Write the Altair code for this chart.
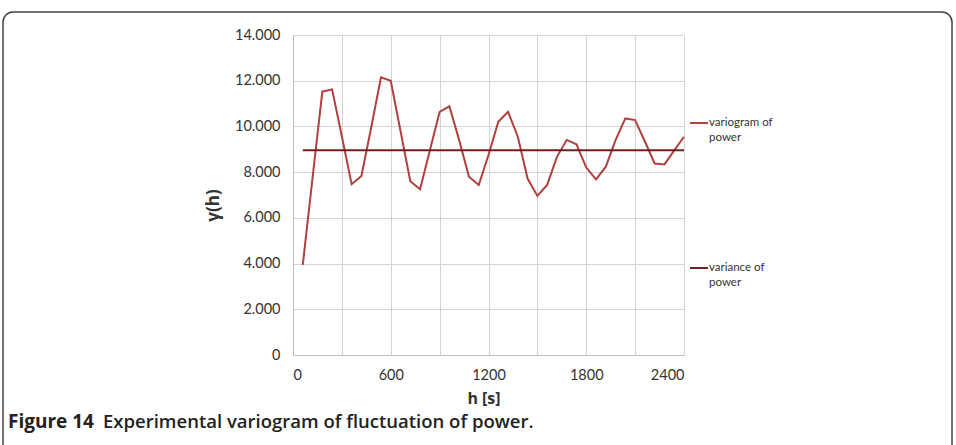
import altair as alt
import pandas as pd

# Experimental variogram of power fluctuation: lag h [s] vs gamma(h)
lag_s = [60, 120, 180, 240, 300, 360, 420, 480, 540, 600,
         660, 720, 780, 840, 900, 960, 1020, 1080, 1140, 1200,
         1260, 1320, 1380, 1440, 1500, 1560, 1620, 1680, 1740, 1800,
         1860, 1920, 1980, 2040, 2100, 2160, 2220, 2280, 2340, 2400]
gamma_h = [3.94, 7.75, 11.52, 11.62, 9.56, 7.47, 7.83, 9.95, 12.15, 12.00,
           9.80, 7.60, 7.25, 8.95, 10.64, 10.88, 9.40, 7.80, 7.44, 8.75,
           10.20, 10.64, 9.55, 7.72, 6.96, 7.44, 8.67, 9.41, 9.22, 8.20,
           7.68, 8.24, 9.40, 10.35, 10.28, 9.34, 8.38, 8.34, 8.95, 9.55]
variance_power = 8.96
variance_span = [60, 2400]

x_ticks = list(range(0, 2401, 300))
y_ticks = list(range(0, 15, 2))

legend_lines = ["variogram of", "power", "variance of", "power"]
caption_bold = "Figure 14"
caption_rest = "Experimental variogram of fluctuation of power."

VARIO_COLOR = "#B0413E"
VAR_COLOR = "#6E1F1F"
TEXT_COLOR = "#333333"
W, H = 391, 320

vario_df = pd.DataFrame({"h": lag_s, "gamma": gamma_h})
var_df = pd.DataFrame({"h": variance_span, "gamma": [variance_power] * len(variance_span)})
one = pd.DataFrame({"k": [0]})

x_enc = alt.X(
    "h:Q",
    scale=alt.Scale(domain=[0, 2400], nice=False),
    axis=alt.Axis(
        values=x_ticks, format="d",
        labelExpr="datum.value % 600 == 0 ? datum.label : ''",
        title="h [s]", titleX=W / 2 - 5, titleY=43, titleBaseline="middle",
        titleFont="Open Sans", titleFontSize=16, titleFontWeight="bold",
        titleColor=TEXT_COLOR, labelPadding=13,
    ),
)
y_enc = alt.Y(
    "gamma:Q",
    scale=alt.Scale(domain=[0, 14], nice=False),
    axis=alt.Axis(
        values=y_ticks,
        labelExpr="datum.value == 0 ? '0' : format(datum.value, '.3f')",
        title="γ(h)", titleX=-80, titleY=H / 2 + 10, titleAngle=-90,
        titleBaseline="middle", titleAlign="center",
        titleFont="Open Sans", titleFontSize=17, titleFontWeight="bold",
        titleColor=TEXT_COLOR, labelPadding=13,
    ),
)

vario = alt.Chart(vario_df).mark_line(color=VARIO_COLOR, strokeWidth=2).encode(x=x_enc, y=y_enc)
variance = alt.Chart(var_df).mark_line(color=VAR_COLOR, strokeWidth=2).encode(x="h:Q", y="gamma:Q")

# figure frame
frame = alt.Chart(one).mark_rect(
    fill=None, stroke="#444444", strokeWidth=1.5, cornerRadius=10, clip=False
).encode(x=alt.value(-290), x2=alt.value(659), y=alt.value(-23), y2=alt.value(440))

# legend entries
def legend_entry(color, y_px, lines):
    rule = alt.Chart(one).mark_rule(color=color, strokeWidth=2).encode(
        x=alt.value(397), x2=alt.value(415), y=alt.value(y_px))
    t1 = alt.Chart(one).mark_text(
        text=lines[0], align="left", baseline="middle", font="Lato",
        fontSize=11.5, color=TEXT_COLOR).encode(x=alt.value(416), y=alt.value(y_px))
    t2 = alt.Chart(one).mark_text(
        text=lines[1], align="left", baseline="middle", font="Lato",
        fontSize=11.5, color=TEXT_COLOR).encode(x=alt.value(416), y=alt.value(y_px + 15))
    return rule + t1 + t2

leg1 = legend_entry(VARIO_COLOR, 88, legend_lines[0:2])
leg2 = legend_entry(VAR_COLOR, 233, legend_lines[2:4])

cap1 = alt.Chart(one).mark_text(
    text=caption_bold, align="left", baseline="middle", font="Open Sans",
    fontSize=19, fontWeight="bold", color="#222222").encode(x=alt.value(-285), y=alt.value(387))
cap2 = alt.Chart(one).mark_text(
    text=caption_rest, align="left", baseline="middle", font="Open Sans",
    fontSize=18.5, fontWeight=600, color="#222222").encode(x=alt.value(-190), y=alt.value(387))

chart = alt.layer(vario, variance, frame, leg1, leg2, cap1, cap2).properties(
    width=W, height=H,
    autosize=alt.AutoSizeParams(type="none"),
    padding={"left": 293, "top": 35, "right": 956 - 293 - W, "bottom": 445 - 35 - H},
    background="white",
).configure_view(stroke=None).configure_axis(
    labelFont="Lato", labelFontSize=14.5, labelColor=TEXT_COLOR,
    gridColor="#D4D4D4", gridWidth=1, domainColor="#BFBFBF", ticks=False,
).configure_axisX(grid=True).configure_axisY(grid=True)

chart.save("out.html", embed_options={"renderer": "svg", "actions": False})
